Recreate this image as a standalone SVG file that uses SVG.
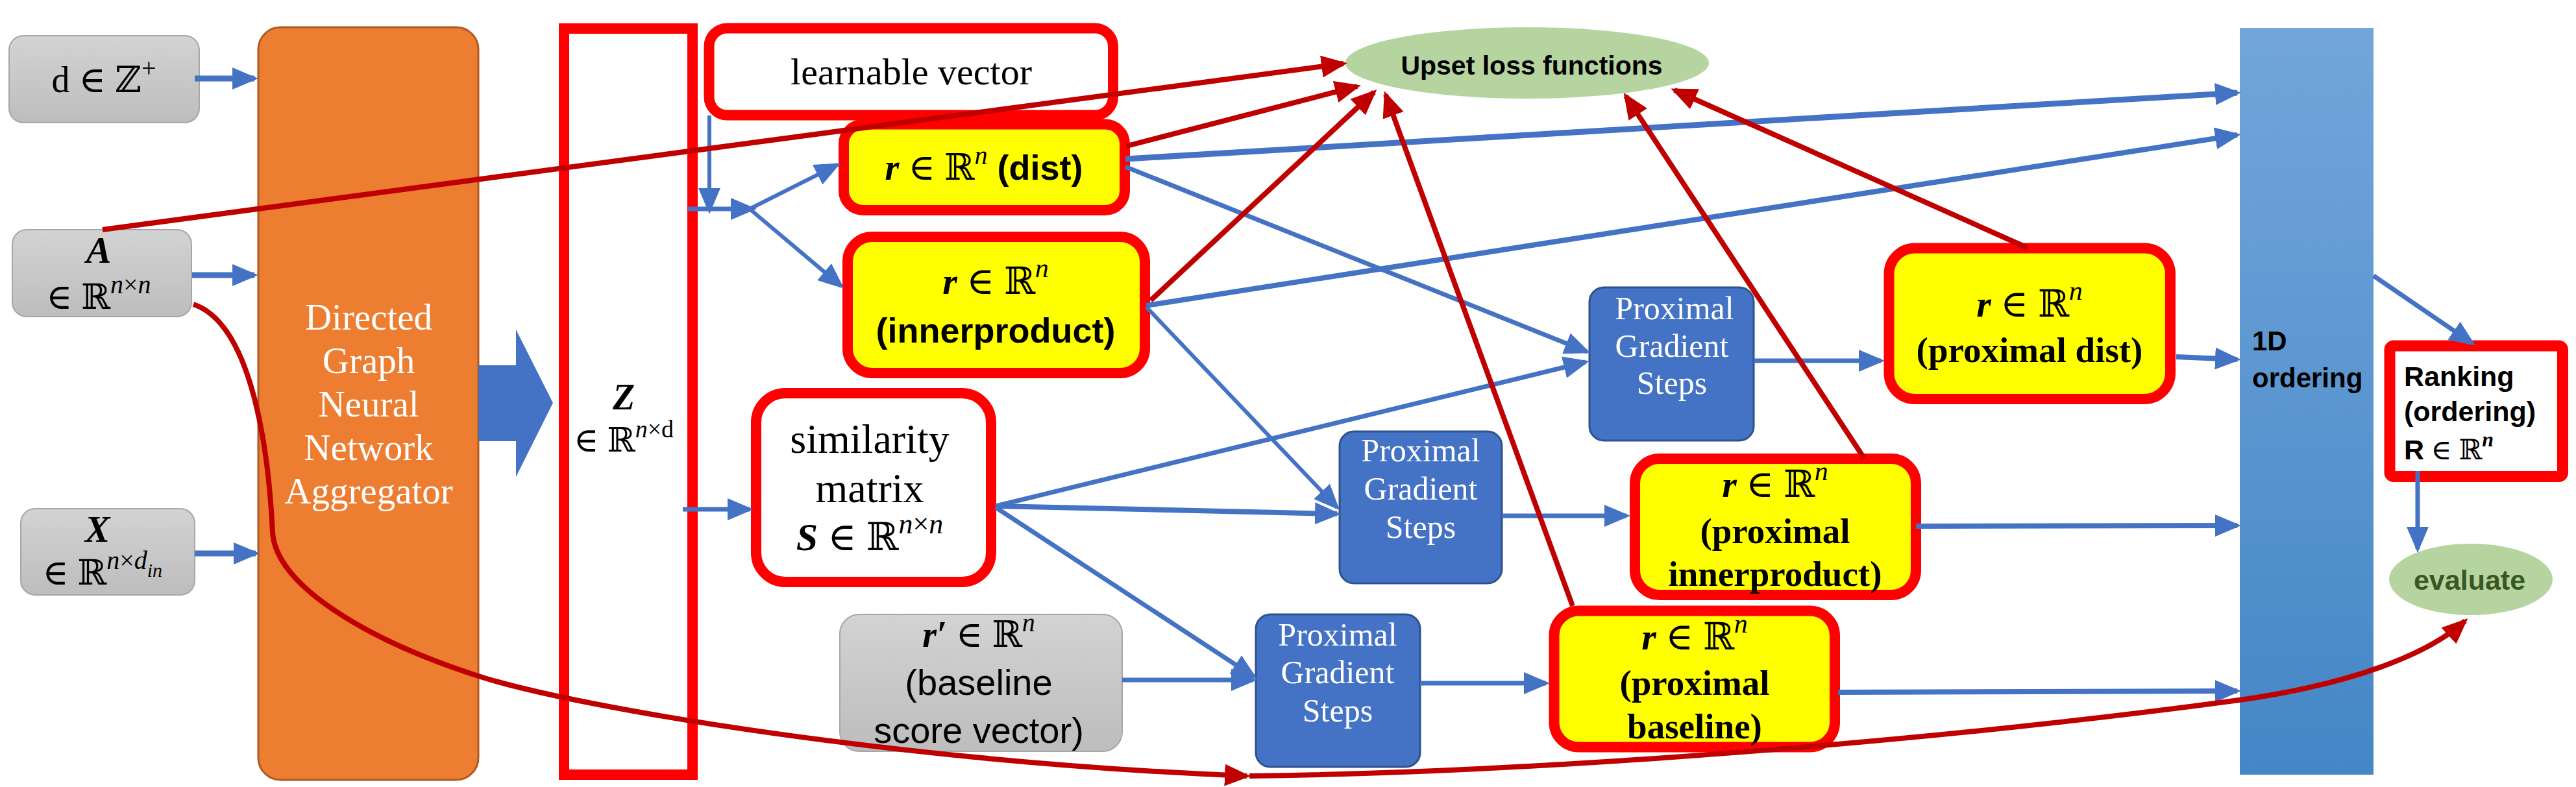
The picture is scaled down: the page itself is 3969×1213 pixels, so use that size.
<svg xmlns="http://www.w3.org/2000/svg" width="3969" height="1213" viewBox="0 0 3969 1213">
<defs>
<linearGradient id="gg" x1="0" y1="0" x2="0" y2="1"><stop offset="0" stop-color="#D3D3D3"/><stop offset="1" stop-color="#BDBDBD"/></linearGradient>
<linearGradient id="gb" x1="0" y1="0" x2="0" y2="1"><stop offset="0" stop-color="#72A6DA"/><stop offset="1" stop-color="#4486C6"/></linearGradient>
<marker id="ab" markerUnits="userSpaceOnUse" markerWidth="40" markerHeight="34" refX="34" refY="17" orient="auto"><path d="M0,0 L40,17 L0,34 z" fill="#4472C4"/></marker>
<marker id="ar" markerUnits="userSpaceOnUse" markerWidth="40" markerHeight="34" refX="34" refY="17" orient="auto"><path d="M0,0 L40,17 L0,34 z" fill="#C00000"/></marker>
<style>
.gray{fill:url(#gg);stroke:#A6A6A6;stroke-width:2}
.redbox{stroke:#FF0000;stroke-width:16}
.yel{fill:#FFFF00}
.wht{fill:#FFFFFF}
.prox{fill:#4472C4;stroke:#2F528F;stroke-width:3}
.ell{fill:#B5D4A0}
.serif{font-family:"Liberation Serif","DejaVu Serif",serif}
.sans{font-family:"Liberation Sans","DejaVu Sans",sans-serif}
.mid{text-anchor:middle}
.bi{font-weight:bold;font-style:italic}
.it{font-style:italic}
.b{font-weight:bold}
.lb{stroke:#4472C4;fill:none;marker-end:url(#ab)}
.lr{stroke:#C00000;fill:none;stroke-width:8;marker-end:url(#ar)}
</style>
</defs>

<g id="node-d">
<rect class="gray" x="14" y="55" width="293" height="134" rx="22"/>
<text class="serif mid" x="160" y="142" font-size="56">d ∈ ℤ<tspan font-size="40" dy="-24">+</tspan></text>
</g>
<g id="node-A">
<rect class="gray" x="19" y="354" width="276" height="134" rx="22"/>
<text class="serif mid bi" x="152" y="405" font-size="58">A</text>
<text class="serif mid" x="152" y="476" font-size="54">∈ ℝ<tspan font-size="40" dy="-24"><tspan class="it">n</tspan>×<tspan class="it">n</tspan></tspan></text>
</g>
<g id="node-X">
<rect class="gray" x="32" y="784" width="268" height="133" rx="22"/>
<text class="serif mid bi" x="150" y="835" font-size="58">X</text>
<text class="serif mid" x="158" y="901" font-size="54">∈ ℝ<tspan font-size="40" dy="-24"><tspan class="it">n</tspan>×<tspan class="it">d</tspan></tspan><tspan class="it" font-size="30" dy="12">in</tspan></text>
</g>
<g id="node-gnn">
<rect x="398" y="42" width="339" height="1160" rx="34" fill="#ED7D31" stroke="#AE5A21" stroke-width="3"/>
<text class="serif mid" x="568" y="508" font-size="57" fill="#FFFFFF">
<tspan x="568" y="508">Directed</tspan><tspan x="568" y="575">Graph</tspan><tspan x="568" y="642">Neural</tspan><tspan x="568" y="709">Network</tspan><tspan x="568" y="776">Aggregator</tspan></text>
</g>
<g id="node-bigarrow">
<polygon points="737,563 795,563 795,508 852,621 795,735 795,680 737,680" fill="#4472C4"/>
</g>
<g id="node-Z">
<rect x="869" y="44" width="198" height="1150" fill="none" class="redbox"/>
<text class="serif mid bi" x="961" y="631" font-size="56">Z</text>
<text class="serif mid" x="961" y="696" font-size="52">∈ ℝ<tspan font-size="38" dy="-22"><tspan class="it">n</tspan>×d</tspan></text>
</g>
<g id="node-learnable">
<rect class="redbox wht" x="1092.5" y="43.5" width="622.5" height="134" rx="28"/>
<text class="serif mid" x="1404" y="130" font-size="58">learnable vector</text>
</g>
<g id="node-dist">
<rect class="redbox yel" x="1300" y="191.5" width="433" height="132.5" rx="30"/>
<text class="mid" x="1516" y="277" font-size="56"><tspan class="serif bi">r</tspan><tspan class="serif"> ∈ ℝ</tspan><tspan class="serif it" font-size="40" dy="-24">n</tspan><tspan class="sans b" font-size="54" dy="24"> (dist)</tspan></text>
</g>
<g id="node-inner">
<rect class="redbox yel" x="1306" y="365" width="458" height="210" rx="38"/>
<text class="mid serif" x="1534" y="453" font-size="58"><tspan class="bi">r</tspan> ∈ ℝ<tspan class="it" font-size="42" dy="-26">n</tspan></text>
<text class="mid sans b" x="1534" y="528" font-size="54">(innerproduct)</text>
</g>
<g id="node-sim">
<rect class="redbox wht" x="1165" y="606" width="362" height="291" rx="45"/>
<text class="serif mid" x="1340" y="698" font-size="64">similarity</text>
<text class="serif mid" x="1340" y="774" font-size="64">matrix</text>
<text class="serif mid" x="1340" y="848" font-size="60"><tspan class="bi">S</tspan> ∈ ℝ<tspan font-size="44" dy="-26"><tspan class="it">n</tspan>×<tspan class="it">n</tspan></tspan></text>
</g>
<g id="node-rprime">
<rect class="gray" x="1294" y="947" width="435" height="211" rx="30"/>
<text class="serif mid" x="1508" y="997" font-size="56"><tspan class="bi">r′</tspan> ∈ ℝ<tspan class="it" font-size="40" dy="-24">n</tspan></text>
<text class="sans mid" x="1508" y="1071" font-size="56">(baseline</text>
<text class="sans mid" x="1508" y="1145" font-size="56">score vector)</text>
</g>
<g id="node-prox1">
<rect class="prox" x="2449" y="443" width="253" height="236" rx="22"/>
<text class="serif mid" font-size="50" fill="#FFFFFF"><tspan x="2580" y="492">Proximal</tspan><tspan x="2576" y="550">Gradient</tspan><tspan x="2576" y="607">Steps</tspan></text>
</g>
<g id="node-prox2">
<rect class="prox" x="2064" y="665" width="250" height="234" rx="22"/>
<text class="serif mid" font-size="50" fill="#FFFFFF"><tspan x="2189" y="711">Proximal</tspan><tspan x="2189" y="770">Gradient</tspan><tspan x="2189" y="829">Steps</tspan></text>
</g>
<g id="node-prox3">
<rect class="prox" x="1935" y="947" width="253" height="235" rx="22"/>
<text class="serif mid" font-size="50" fill="#FFFFFF"><tspan x="2061" y="995">Proximal</tspan><tspan x="2061" y="1053">Gradient</tspan><tspan x="2061" y="1112">Steps</tspan></text>
</g>
<g id="node-pdist">
<rect class="redbox yel" x="2910.5" y="382.5" width="433.5" height="232.5" rx="40"/>
<text class="serif mid" x="3127" y="488" font-size="58"><tspan class="bi">r</tspan> ∈ ℝ<tspan class="it" font-size="42" dy="-26">n</tspan></text>
<text class="serif mid b" x="3127" y="558" font-size="55">(proximal dist)</text>
</g>
<g id="node-pinner">
<rect class="redbox yel" x="2519" y="707" width="433" height="210" rx="38"/>
<text class="serif mid" x="2735" y="766" font-size="58"><tspan class="bi">r</tspan> ∈ ℝ<tspan class="it" font-size="42" dy="-26">n</tspan></text>
<text class="serif mid b" x="2735" y="837" font-size="55">(proximal</text>
<text class="serif mid b" x="2735" y="903" font-size="55">innerproduct)</text>
</g>
<g id="node-pbase">
<rect class="redbox yel" x="2394.5" y="941.5" width="432.5" height="210" rx="38"/>
<text class="serif mid" x="2611" y="1001" font-size="58"><tspan class="bi">r</tspan> ∈ ℝ<tspan class="it" font-size="42" dy="-26">n</tspan></text>
<text class="serif mid b" x="2611" y="1071" font-size="55">(proximal</text>
<text class="serif mid b" x="2611" y="1138" font-size="55">baseline)</text>
</g>
<g id="node-upset">
<ellipse class="ell" cx="2353" cy="97" rx="280" ry="55"/>
<text class="sans mid b" x="2360" y="115" font-size="41">Upset loss functions</text>
</g>
<g id="node-1d">
<rect x="3451" y="43" width="206" height="1151" fill="url(#gb)"/>
<text class="sans b" x="3470" y="540" font-size="42">1D</text>
<text class="sans b" x="3470" y="597" font-size="42">ordering</text>
</g>
<g id="node-ranking">
<rect class="redbox wht" x="3682" y="533" width="266.5" height="201.5" rx="6" style="stroke-width:17"/>
<text class="sans b" x="3704" y="595" font-size="43">Ranking</text>
<text class="sans b" x="3704" y="649" font-size="43">(ordering)</text>
<text x="3704" y="708" font-size="43"><tspan class="sans b">R</tspan><tspan class="serif"> ∈ ℝ</tspan><tspan class="serif bi" font-size="32" dy="-20">n</tspan></text>
</g>
<g id="node-evaluate">
<ellipse class="ell" cx="3807" cy="893" rx="126" ry="55"/>
<text class="sans mid b" x="3805" y="909" font-size="43" fill="#385723">evaluate</text>
</g>

<g id="connectors">
<line class="lb" x1="300" y1="121" x2="392" y2="121" stroke-width="9"/>
<line class="lb" x1="296" y1="424" x2="392" y2="424" stroke-width="9"/>
<line class="lb" x1="300" y1="853" x2="394" y2="853" stroke-width="9"/>
<line class="lb" x1="1093" y1="178" x2="1093" y2="324" stroke-width="6"/>
<line class="lb" x1="1060" y1="322" x2="1160" y2="322" stroke-width="7"/>
<line class="lb" x1="1155" y1="322" x2="1290" y2="254" stroke-width="6"/>
<line class="lb" x1="1155" y1="322" x2="1296" y2="441" stroke-width="6"/>
<line class="lb" x1="1052" y1="785" x2="1155" y2="785" stroke-width="7"/>
<line class="lb" x1="1734" y1="245" x2="3447" y2="143" stroke-width="9"/>
<line class="lb" x1="1734" y1="257" x2="2445" y2="542" stroke-width="7"/>
<line class="lb" x1="1766" y1="471" x2="3447" y2="208" stroke-width="8"/>
<line class="lb" x1="1766" y1="473" x2="2060" y2="782" stroke-width="6"/>
<line class="lb" x1="1534" y1="780" x2="2443" y2="558" stroke-width="7"/>
<line class="lb" x1="1534" y1="780" x2="2060" y2="792" stroke-width="8"/>
<line class="lb" x1="1534" y1="782" x2="1932" y2="1043" stroke-width="7"/>
<line class="lb" x1="1729" y1="1048" x2="1931" y2="1048" stroke-width="7"/>
<line class="lb" x1="2702" y1="556" x2="2898" y2="556" stroke-width="7"/>
<line class="lb" x1="2314" y1="795" x2="2506" y2="795" stroke-width="7"/>
<line class="lb" x1="2188" y1="1053" x2="2382" y2="1053" stroke-width="7"/>
<line class="lb" x1="3353" y1="550" x2="3447" y2="554" stroke-width="8"/>
<line class="lb" x1="2952" y1="811" x2="3447" y2="810" stroke-width="8"/>
<line class="lb" x1="2832" y1="1067" x2="3447" y2="1065" stroke-width="8"/>
<line class="lb" x1="3657" y1="425" x2="3809" y2="529" stroke-width="7"/>
<line class="lb" x1="3725" y1="726" x2="3725" y2="846" stroke-width="7"/>
<line class="lr" x1="158" y1="354" x2="2070" y2="98"/>
<line class="lr" x1="1736" y1="225" x2="2091" y2="133"/>
<line class="lr" x1="1773" y1="463" x2="2117" y2="142"/>
<line class="lr" x1="2423" y1="934" x2="2135" y2="146" stroke-width="6"/>
<line class="lr" x1="2872" y1="706" x2="2505" y2="148" stroke-width="6"/>
<line class="lr" x1="3124" y1="382" x2="2580" y2="139" stroke-width="7"/>
<path class="lr" d="M298,469 C390,500 414,700 420,820 C424,900 560,985 737,1042 C900,1094 1400,1175 1921,1196"/>
<path class="lr" d="M1925,1196 C2400,1190 3000,1140 3450,1079 C3620,1055 3740,1010 3798,957"/>
</g>
</svg>
